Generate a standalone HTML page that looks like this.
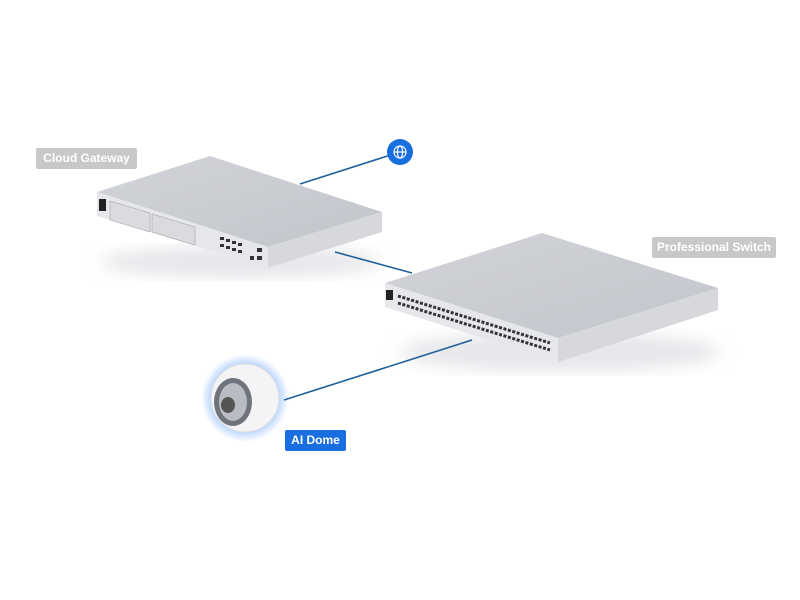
<!DOCTYPE html><html><head><style>
body{margin:0;width:800px;height:600px;background:#fff;overflow:hidden;position:relative;font-family:"Liberation Sans",sans-serif}
.lb{position:absolute;color:#fff;font-size:12px;font-weight:bold;text-align:center;line-height:21px;border-radius:2px}
</style></head><body>
<svg width="800" height="600" style="position:absolute;left:0;top:0">
<defs>
<radialGradient id="glow"><stop offset="0.55" stop-color="#5a9cff" stop-opacity="0.8"/><stop offset="1" stop-color="#5a9cff" stop-opacity="0"/></radialGradient>
<linearGradient id="top" x1="0" y1="0" x2="1" y2="1"><stop offset="0" stop-color="#d2d4d9"/><stop offset="1" stop-color="#c2c5cb"/></linearGradient>
<filter id="bl"><feGaussianBlur stdDeviation="8"/></filter>
</defs>
<!-- shadows -->
<ellipse cx="240" cy="262" rx="140" ry="16" fill="#e6e7ea" filter="url(#bl)"/>
<ellipse cx="560" cy="352" rx="160" ry="20" fill="#e6e7ea" filter="url(#bl)"/>
<g stroke="#1f5f9a" stroke-width="1.6" fill="none">
<line x1="400" y1="152" x2="300" y2="184"/>
<line x1="335" y1="252" x2="412" y2="273"/>
<line x1="472" y1="340" x2="284" y2="400"/>
</g>
<!-- gateway -->
<polygon points="97,192 210,156 382,212 268,247" fill="url(#top)"/>
<polygon points="97,192 268,247 268,268 97,216" fill="#e6e7ea"/>
<polygon points="268,247 382,212 382,232 268,268" fill="#d6d8dc"/>
<rect x="99" y="199" width="7" height="12" fill="#222"/>
<polygon points="110,201 150,213 150,232 110,220" fill="#dadbdf" stroke="#999" stroke-width="0.5"/>
<polygon points="152,214 195,227 195,245 152,232" fill="#dadbdf" stroke="#999" stroke-width="0.5"/>
<g fill="#333"><rect x="220" y="237" width="4" height="3"/><rect x="226" y="239" width="4" height="3"/><rect x="232" y="241" width="4" height="3"/><rect x="238" y="243" width="4" height="3"/>
<rect x="220" y="244" width="4" height="3"/><rect x="226" y="246" width="4" height="3"/><rect x="232" y="248" width="4" height="3"/><rect x="238" y="250" width="4" height="3"/>
<rect x="257" y="248" width="5" height="4"/><rect x="257" y="256" width="5" height="4"/><rect x="250" y="256" width="4" height="4"/></g>
<!-- switch -->
<polygon points="385,283 542,233 718,288 558,338" fill="url(#top)"/>
<polygon points="385,283 558,338 558,362 385,307" fill="#e6e7ea"/>
<polygon points="558,338 718,288 718,310 558,362" fill="#d6d8dc"/>
<rect x="386" y="290" width="7" height="10" fill="#222"/>
<g stroke="#333" stroke-width="3" stroke-dasharray="3,1.6">
<line x1="398" y1="296" x2="550" y2="343"/>
<line x1="398" y1="303" x2="550" y2="350"/>
</g>
<!-- globe -->
<circle cx="400" cy="152" r="13" fill="#1a6fe0"/>
<g stroke="#fff" stroke-width="1.2" fill="none"><circle cx="400" cy="152" r="6"/><ellipse cx="400" cy="152" rx="2.6" ry="6"/><line x1="394" y1="152" x2="406" y2="152"/></g>
<!-- dome -->
<circle cx="245" cy="398" r="44" fill="url(#glow)"/>
<circle cx="245" cy="398" r="34" fill="#f4f4f6" stroke="#ddd"/>
<ellipse cx="233" cy="402" rx="19" ry="24" fill="#6f747c"/>
<ellipse cx="233" cy="402" rx="14" ry="19" fill="#b9bcc3"/>
<ellipse cx="228" cy="405" rx="7" ry="8" fill="#555"/>
</svg>
<div class="lb" style="left:36px;top:148px;width:101px;background:#c8c8c8">Cloud Gateway</div>
<div class="lb" style="left:652px;top:237px;width:124px;background:#c8c8c8">Professional Switch</div>
<div class="lb" style="left:285px;top:430px;width:61px;background:#1a6fe0">AI Dome</div>
</body></html>
